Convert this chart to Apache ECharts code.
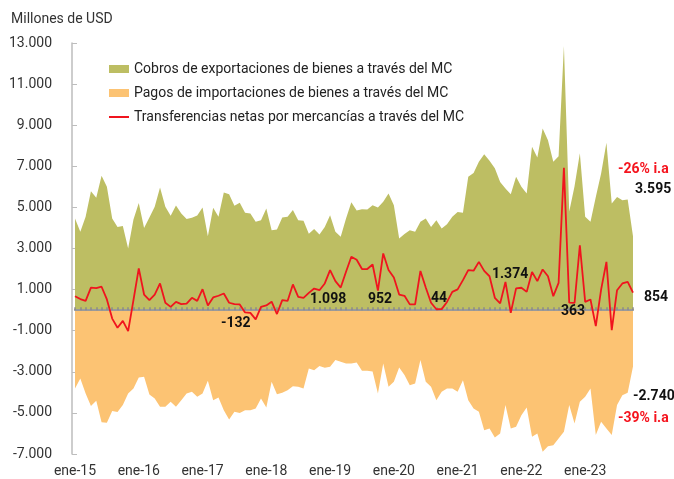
<!DOCTYPE html>
<html>
<head>
<meta charset="utf-8">
<script src="https://cdn.jsdelivr.net/npm/echarts@6/dist/echarts.min.js"></script>
<style>
  html, body { margin: 0; padding: 0; background: #fff; }
  #chart { width: 674px; height: 479px; }
</style>
</head>
<body>
<div id="chart"></div>
<script>
/* ----------------- datos (millones de USD) ----------------- */
// meses ene-15 .. oct-23
const meses = ['ene', 'feb', 'mar', 'abr', 'may', 'jun', 'jul', 'ago', 'sep', 'oct', 'nov', 'dic']
const anios = ['15', '16', '17', '18', '19', '20', '21', '22', '23']
const totalMeses = 106

const nombres = [
  'Cobros de exportaciones de bienes a través del MC',
  'Pagos de importaciones de bienes a través del MC',
  'Transferencias netas por mercancías a través del MC'
]

// Cobros de exportaciones
const cobros = [
  4460, 3810, 4540, 5790, 5470, 6540, 6000, 4460, 4050, 4090,
  3000, 4410, 5220, 4000, 4510, 5030, 5970, 5030, 4590, 5090,
  4700, 4440, 4500, 4600, 5000, 3600, 4980, 4550, 5730, 5640,
  5080, 5230, 4740, 4700, 4300, 4380, 4950, 3890, 3930, 4510,
  4540, 4870, 4380, 4350, 3720, 3950, 3680, 4050, 4620, 3810,
  3570, 4460, 5250, 4850, 4910, 4900, 5110, 5000, 5270, 5680,
  5110, 3490, 3700, 3890, 3810, 4300, 4460, 4050, 4380, 3970,
  4180, 4540, 4780, 4740, 6490, 6680, 7220, 7590, 7270, 6900,
  6240, 5920, 5640, 6490, 6000, 5680, 7950, 7430, 8840, 8270,
  7220, 7490, 12850, 4800, 6030, 7630, 4540, 4300, 5510, 6650,
  8140, 5190, 5510, 5350, 5390, 3595
]

// Pagos de importaciones
const pagos = [
  -3810, -3330, -4050, -4670, -4410, -5450, -5480, -4910, -4960, -4620,
  -4050, -3810, -3280, -3240, -4100, -4300, -4700, -4700, -4460, -4700,
  -4380, -4050, -3970, -4220, -4050, -3440, -4380, -4250, -4870, -5320,
  -4950, -5000, -4870, -4870, -4780, -4300, -4740, -3490, -4090, -4020,
  -3900, -3700, -3730, -3810, -2840, -2920, -2720, -2800, -2760, -2430,
  -2510, -2600, -2600, -2550, -2950, -2950, -2980, -4050, -2600, -3730,
  -3490, -2790, -3160, -3650, -3570, -2430, -3490, -3730, -4380, -3970,
  -3810, -3810, -3970, -3410, -4380, -4780, -4950, -5840, -5760, -6200,
  -6000, -4620, -5760, -5680, -5110, -4740, -6160, -6000, -6890, -6620,
  -6570, -6240, -5920, -4620, -5510, -4460, -4220, -3810, -6080, -5430,
  -5760, -6080, -4620, -4140, -4020, -2740
]

// Transferencias netas
const neto = [
  680, 540, 450, 1100, 1070, 1140, 520, -410, -860, -520,
  -1020, 490, 2030, 760, 490, 760, 1300, 360, 160, 400,
  290, 320, 600, 450, 1020, 230, 620, 700, 810, 360,
  290, 280, -110, -132, -450, 160, 230, 410, -190, 490,
  450, 1250, 650, 600, 840, 1050, 970, 1300, 1950, 1410,
  1098, 1870, 2600, 2450, 2000, 2000, 2220, 952, 2760, 1950,
  1590, 760, 700, 280, 280, 1910, 1100, 360, 44, 50,
  400, 890, 1010, 1460, 1950, 1920, 2350, 1910, 1650, 600,
  330, 1374, -130, 1060, 1090, 890, 1860, 1410, 1980, 1650,
  680, 1330, 6930, 363, 350, 3160, 400, 520, -780, 1000,
  2350, -970, 970, 1300, 1380, 854
]

// anotaciones: texto, x, y, color
const anotaciones = [
  ['-26% i.a', 618, 169, '#f5141e'],
  ['3.595', 635, 189, '#111'],
  ['854', 644, 297, '#111'],
  ['-2.740', 633, 396, '#111'],
  ['-39% i.a', 618, 418, '#f5141e'],
  ['-132', 221, 323, '#111'],
  ['1.098', 310, 299, '#111'],
  ['952', 368, 299, '#111'],
  ['44', 431, 298, '#111'],
  ['1.374', 492, 274, '#111'],
  ['363', 561, 311, '#111']
]

const categorias = []
anios.forEach(a => meses.forEach(m => categorias.push(m + '-' + a)))
categorias.length = totalMeses

// separador de miles con punto
const formatoMiles = (v) => {
  const s = String(Math.abs(v)).replace(/\B(?=(\d{3})+(?!\d))/g, '.')
  return (v < 0 ? '-' : '') + s
}

const chart = echarts.init(document.getElementById('chart'))

const option = {
  animation: false,
  textStyle: { fontFamily: 'Roboto' },
  title: {
    text: 'Millones de USD',
    left: 6,
    top: 7,
    textStyle: { fontSize: 14, fontWeight: 'normal', color: '#333', fontFamily: 'Roboto' }
  },
  legend: {
    orient: 'vertical',
    left: 104,
    top: 57,
    itemWidth: 20,
    itemHeight: 8,
    itemGap: 10,
    textStyle: { fontSize: 14, color: '#222', lineHeight: 14, fontFamily: 'Roboto' },
    data: [
      { name: nombres[0], icon: 'rect' },
      { name: nombres[1], icon: 'rect' },
      { name: nombres[2], icon: 'path://M0,0H20V2H0Z' }
    ]
  },
  grid: { left: 75, right: 41, top: 43, bottom: 25, outerBoundsMode: 'none' },
  xAxis: [
    {
      // etiquetas de abajo
      type: 'category',
      data: categorias,
      boundaryGap: false,
      position: 'bottom',
      axisLine: { show: false, onZero: false },
      axisTick: { show: false },
      splitLine: { show: false },
      axisLabel: { interval: 11, fontSize: 14, color: '#333', margin: 10 }
    },
    {
      // linea del cero con marcas mensuales
      type: 'category',
      data: categorias,
      boundaryGap: false,
      position: 'bottom',
      z: 5,
      axisLine: { show: true, onZero: true, lineStyle: { color: '#9a9a9a', width: 2 } },
      axisTick: { show: true, inside: true, interval: 0, length: 3, lineStyle: { color: '#8a8a8a', width: 1.5 } },
      axisLabel: { show: false },
      splitLine: { show: false }
    }
  ],
  yAxis: {
    type: 'value',
    min: -7000,
    max: 13000,
    interval: 2000,
    offset: 3,
    axisLine: { show: true, lineStyle: { color: '#bdbdbd', width: 1.5 } },
    axisTick: { show: true, inside: true, length: 5, lineStyle: { color: '#bdbdbd' } },
    splitLine: { show: false },
    axisLabel: { fontSize: 14, color: '#333', margin: 20, formatter: formatoMiles }
  },
  series: [
    {
      name: nombres[0],
      type: 'line',
      data: cobros,
      symbol: 'none',
      lineStyle: { width: 0 },
      itemStyle: { color: '#bdbe63' },
      areaStyle: { color: '#bdbe63', opacity: 1 },
      z: 2
    },
    {
      name: nombres[1],
      type: 'line',
      data: pagos,
      symbol: 'none',
      lineStyle: { width: 0 },
      itemStyle: { color: '#fcc373' },
      areaStyle: { color: '#fcc373', opacity: 1 },
      z: 2
    },
    {
      name: nombres[2],
      type: 'line',
      data: neto,
      symbol: 'none',
      lineStyle: { color: '#f0141e', width: 1.8 },
      itemStyle: { color: '#f0141e' },
      z: 6
    }
  ],
  graphic: anotaciones.map(a => ({
    type: 'text',
    x: a[1],
    y: a[2],
    z: 10,
    style: { text: a[0], fill: a[3], font: 'bold 14px Roboto', verticalAlign: 'middle' }
  }))
}

chart.setOption(option)
</script>
</body>
</html>
